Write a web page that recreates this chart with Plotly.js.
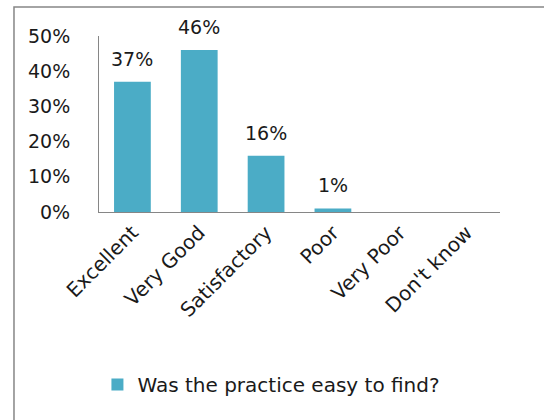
<!DOCTYPE html>
<html><head><meta charset="utf-8">
<script src="https://cdn.plot.ly/plotly-3.0.1.min.js"></script>
<style>html,body{margin:0;padding:0;background:#fff}#chart{width:544px;height:420px}</style>
</head><body><div id="chart"></div>
<script>
const categories = ["Excellent", "Very Good", "Satisfactory", "Poor", "Very Poor", "Don't know"];
const values = [37, 46, 16, 1, 0, 0];
const labels = ["37%", "46%", "16%", "1%", "", ""];
const seriesName = "Was the practice easy to find?";
const yTicks = [0, 10, 20, 30, 40, 50];
const yTickText = ["0%", "10%", "20%", "30%", "40%", "50%"];

const font = "'DejaVu Sans', sans-serif";
const annotations = categories.map((c, i) => ({
  x: c, y: values[i], xref: 'x', yref: 'y', text: labels[i],
  showarrow: false, yanchor: 'bottom', yshift: 10,
  font: {family: font, size: 19, color: '#1a1a1a'}
})).filter(a => a.text !== "");

const trace = {
  type: 'bar', x: categories, y: values, name: seriesName,
  marker: {color: '#4BACC6', line: {width: 0}},
  hoverinfo: 'none'
};

const layout = {
  width: 544, height: 420,
  margin: {l: 99, r: 44, t: 36, b: 208},
  paper_bgcolor: '#fff', plot_bgcolor: '#fff',
  font: {family: font, size: 19, color: '#1a1a1a'},
  bargap: 0.45,
  showlegend: true,
  legend: {orientation: 'h', x: 0.43, xanchor: 'center', y: -0.98, yanchor: 'middle',
           font: {family: font, size: 20, color: '#1a1a1a'}, itemwidth: 30},
  xaxis: {type: 'category', showline: true, linecolor: '#868686', linewidth: 1,
          ticks: '', tickangle: -45, showgrid: false, zeroline: false,
          tickfont: {family: font, size: 20, color: '#1a1a1a'}},
  yaxis: {range: [0, 50], tickvals: yTicks, ticktext: yTickText, showline: true,
          linecolor: '#868686', linewidth: 1, ticks: '', showgrid: false, zeroline: false,
          ticklabelstandoff: 24, tickfont: {family: font, size: 19, color: '#1a1a1a'}},
  annotations: annotations,
  shapes: [{type: 'rect', xref: 'paper', yref: 'paper', x0: -0.212, x1: 2, y0: -3, y1: 1.165,
            line: {color: '#868686', width: 1.5}, fillcolor: 'rgba(0,0,0,0)', layer: 'below'}]
};

Plotly.newPlot('chart', [trace], layout, {staticPlot: true, displayModeBar: false});
</script></body></html>
